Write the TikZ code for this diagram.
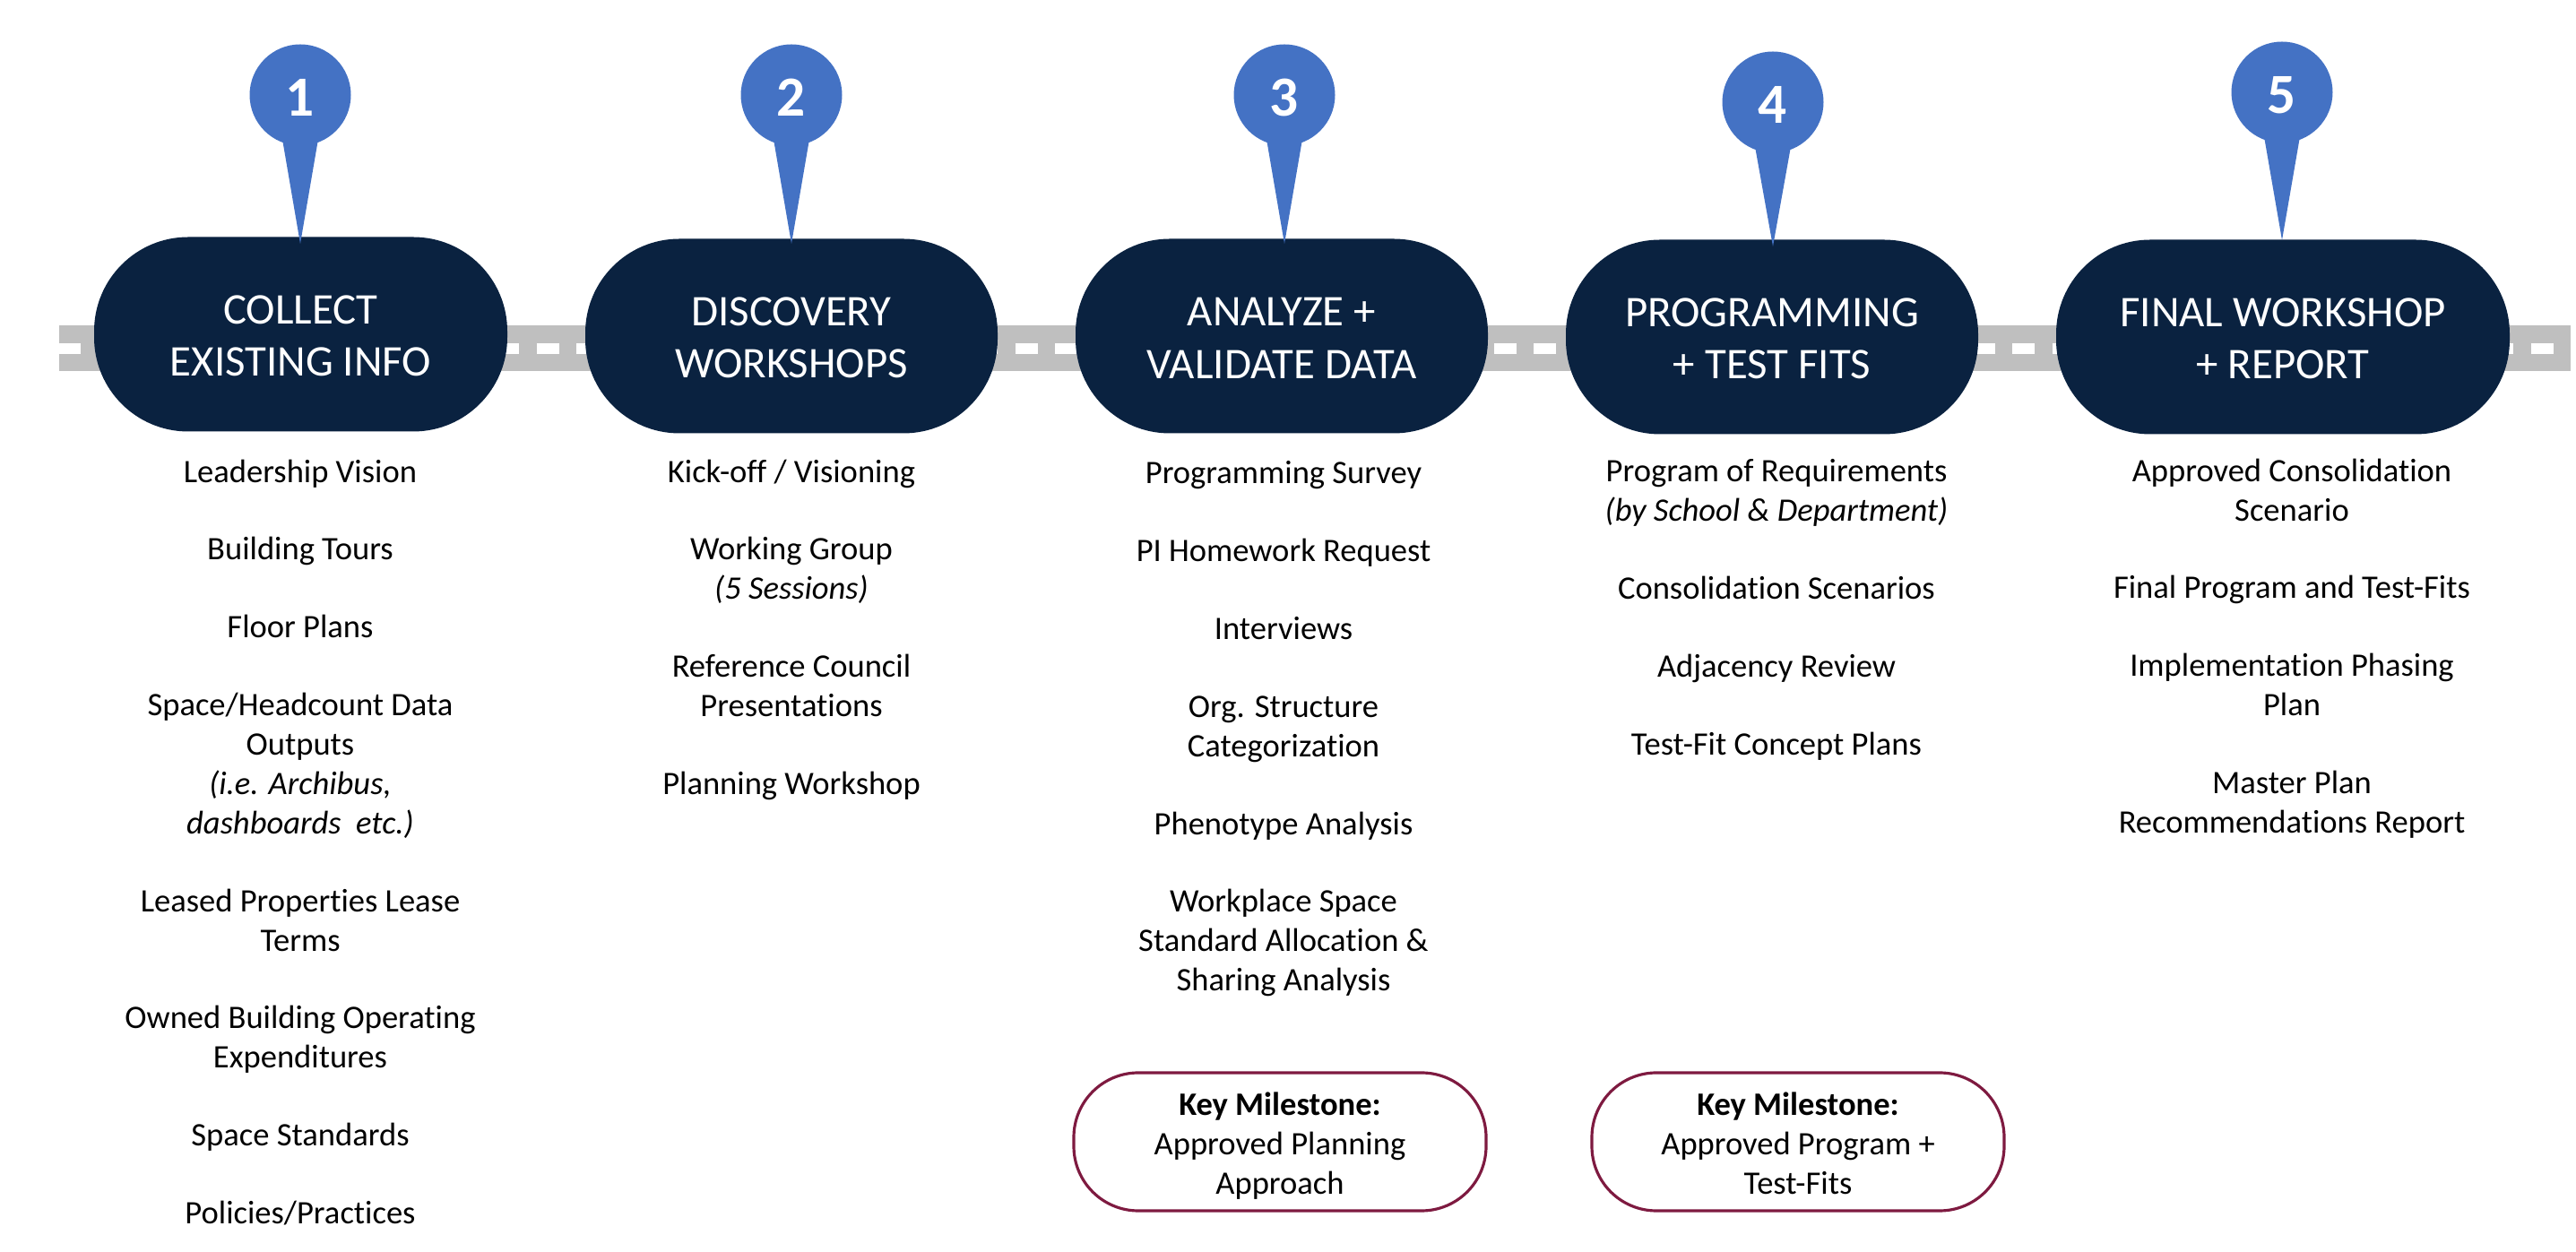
\documentclass[tikz,border=0pt]{standalone}
\usepackage{fontspec}
\setmainfont{Carlito}[Ligatures=NoCommon]
\definecolor{pillnavy}{HTML}{0A2240}
\definecolor{pinblue}{HTML}{4472C4}
\definecolor{roadgrey}{HTML}{BFBFBF}
\definecolor{milemaroon}{HTML}{7E1A40}
\newcommand{\pilltop}{\rule{0pt}{10.2pt}}
\newcommand{\miletop}{\rule{0pt}{11.2pt}}
\newcommand{\milebot}{\rule[-3pt]{0pt}{3pt}}
\tikzset{
	pill/.style={fill=pillnavy, text=white, minimum width=4.61cm, minimum height=2.17cm, rounded corners=1.05cm, inner sep=0pt, align=center, font=\fontsize{13.9}{16.6}\selectfont},
	pin/.style={circle, fill=pinblue, text=white, minimum size=1.13cm, inner sep=0pt, text height=13.4pt, text depth=0pt, font=\fontsize{18}{20}\selectfont\bfseries},
	tail/.style={fill=pinblue},
	body/.style={anchor=north, inner sep=0pt, align=center, font=\fontsize{10.4}{12.5}\selectfont},
	milestone/.style={draw=milemaroon, line width=0.9pt, minimum width=4.6cm, minimum height=1.54cm, rounded corners=0.72cm, inner sep=0pt, align=center, font=\fontsize{10.4}{12.5}\selectfont}
}
\begin{document}
\begin{tikzpicture}
	\useasboundingbox (0, 0) rectangle (28.74, 13.97);
	\fill[roadgrey] (0.66, 9.83) rectangle (28.68, 10.34);
	\begin{scope}
		\clip (0.66, 9.83) rectangle (28.68, 10.34);
		\draw[white, line width=0.12cm, dash pattern=on 0.25cm off 0.195cm] (0.645, 10.08) -- (28.68, 10.08);
	\end{scope}
	\node[pill] (collect) at (3.355, 10.24) {\pilltop COLLECT\\EXISTING INFO};
	\node[pill, minimum width=4.6cm] (discovery) at (8.83, 10.22) {\pilltop DISCOVERY\\WORKSHOPS};
	\node[pill, minimum width=4.6cm] (analyze) at (14.30, 10.22) {\pilltop ANALYZE +\\VALIDATE DATA};
	\node[pill, minimum width=4.6cm] (programming) at (19.77, 10.21) {\pilltop PROGRAMMING\\+ TEST FITS};
	\node[pill, minimum width=5.06cm] (final) at (25.47, 10.21) {\pilltop FINAL WORKSHOP\\+ REPORT};
	\node[pin] (pinone) at (3.35, 12.91) {1};
	\node[pin] (pintwo) at (8.83, 12.91) {2};
	\node[pin] (pinthree) at (14.33, 12.91) {3};
	\node[pin] (pinfour) at (19.78, 12.83) {4};
	\node[pin] (pinfive) at (25.46, 12.94) {5};
	\coordinate (tipone) at (3.35, 11.25);
	\coordinate (tiptwo) at (8.83, 11.25);
	\coordinate (tipthree) at (14.33, 11.25);
	\coordinate (tipfour) at (19.78, 11.22);
	\coordinate (tipfive) at (25.46, 11.29);
	\fill[tail] ([shift={(-0.195, 0.05)}]pinone.south) -- (tipone) -- ([shift={(0.195, 0.05)}]pinone.south) -- cycle;
	\fill[tail] ([shift={(-0.195, 0.05)}]pintwo.south) -- (tiptwo) -- ([shift={(0.195, 0.05)}]pintwo.south) -- cycle;
	\fill[tail] ([shift={(-0.195, 0.05)}]pinthree.south) -- (tipthree) -- ([shift={(0.195, 0.05)}]pinthree.south) -- cycle;
	\fill[tail] ([shift={(-0.195, 0.05)}]pinfour.south) -- (tipfour) -- ([shift={(0.195, 0.05)}]pinfour.south) -- cycle;
	\fill[tail] ([shift={(-0.195, 0.05)}]pinfive.south) -- (tipfive) -- ([shift={(0.195, 0.05)}]pinfive.south) -- cycle;
	\node[body] (collectlist) at (3.35, 8.85) {Leadership Vision\\[12.2pt]Building Tours\\[12.2pt]Floor Plans\\[12.2pt]Space/Headcount Data\\Outputs\\\textit{(i.e. Archibus,}\\\textit{dashboards\ \ etc.)}\\[12.2pt]Leased Properties Lease\\Terms\\[12.2pt]Owned Building Operating\\Expenditures\\[12.2pt]Space Standards\\[12.2pt]Policies/Practices};
	\node[body] (discoverylist) at (8.83, 8.85) {Kick-off / Visioning\\[12.2pt]Working Group\\\textit{(5 Sessions)}\\[12.2pt]Reference Council\\Presentations\\[12.2pt]Planning Workshop};
	\node[body] (analyzelist) at (14.32, 8.83) {Programming Survey\\[12.2pt]PI Homework Request\\[12.2pt]Interviews\\[12.2pt]Org. Structure\\Categorization\\[12.2pt]Phenotype Analysis\\[12.2pt]Workplace Space\\Standard Allocation \&\\Sharing Analysis};
	\node[body] (programminglist) at (19.82, 8.85) {Program of Requirements\\\textit{(by School \& Department)}\\[12.2pt]Consolidation Scenarios\\[12.2pt]Adjacency Review\\[12.2pt]Test-Fit Concept Plans};
	\node[body] (finallist) at (25.57, 8.86) {Approved Consolidation\\Scenario\\[12.2pt]Final Program and Test-Fits\\[12.2pt]Implementation Phasing\\Plan\\[12.2pt]Master Plan\\Recommendations Report};
	\node[milestone] (approach) at (14.28, 1.23) {\miletop\textbf{Key Milestone:}\\Approved Planning\\Approach\milebot};
	\node[milestone] (fits) at (20.06, 1.23) {\miletop\textbf{Key Milestone:}\\Approved Program +\\Test-Fits\milebot};
\end{tikzpicture}
\end{document}
